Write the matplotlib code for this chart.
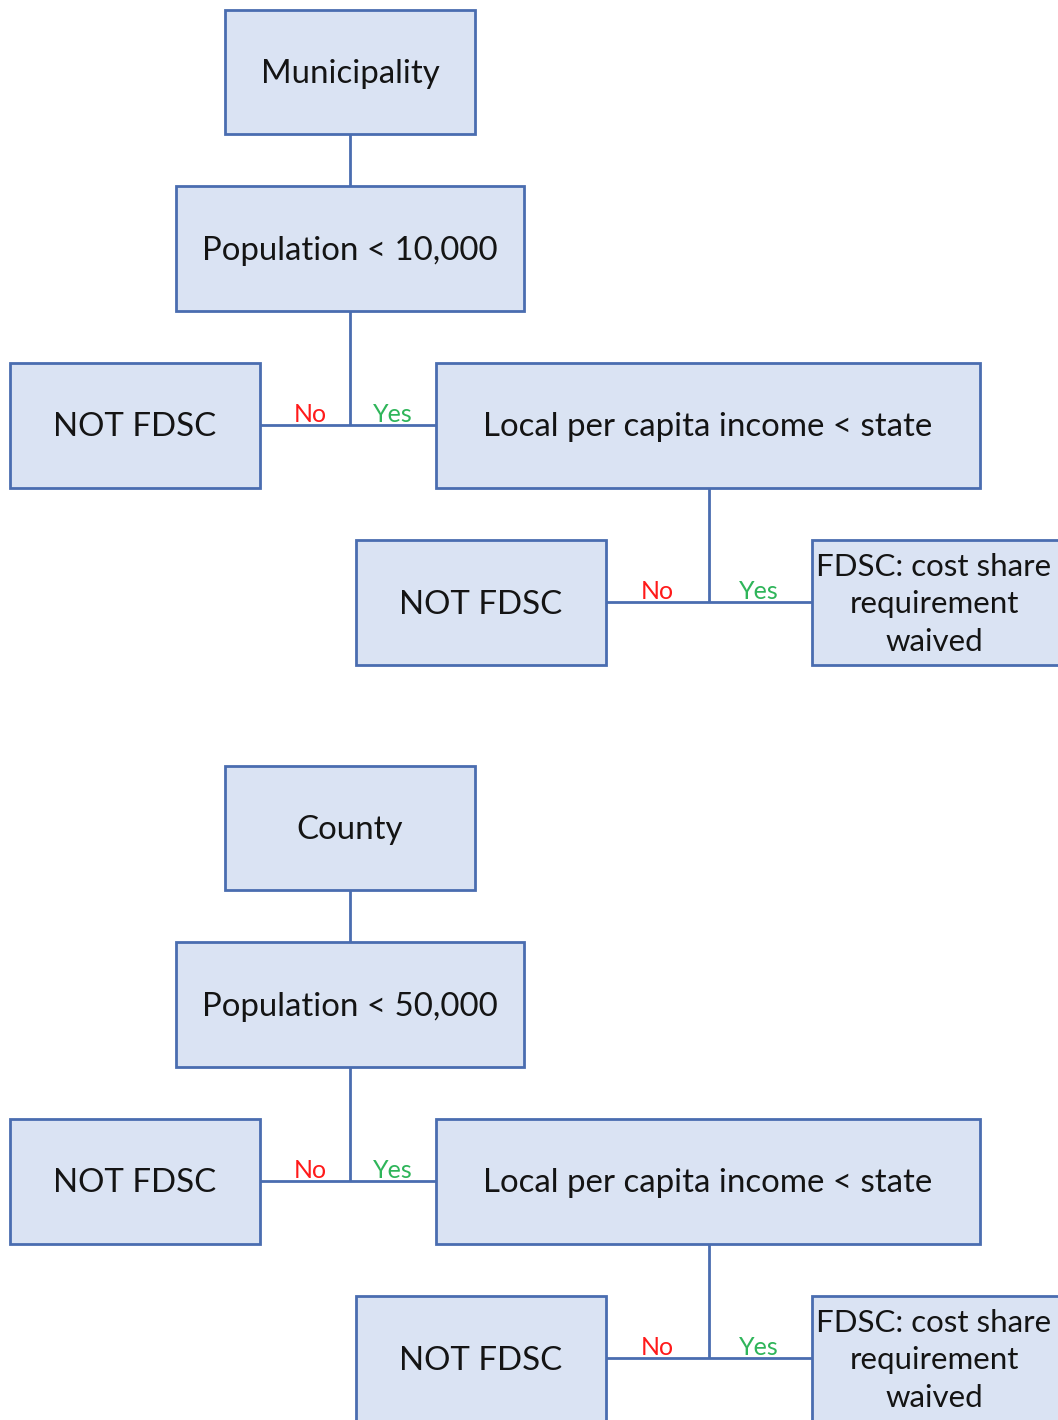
import matplotlib
matplotlib.use("Agg")
import matplotlib.pyplot as plt
from matplotlib.patches import Rectangle

# ---- content ----
entities = ["Municipality", "County"]
thresholds = ["Population < 10,000", "Population < 50,000"]
not_label = "NOT FDSC"
income_label = "Local per capita income < state"
waived_label = "FDSC: cost share\nrequirement\nwaived"
no_label = "No"
yes_label = "Yes"

# ---- style ----
FILL = "#dae3f3"
EDGE = "#4a6db0"
RED = "#ff1a1a"
GREEN = "#2fb55a"
TXT = "#141414"
FONT = ["Lato", "DejaVu Sans"]

W, H = 1058, 1420
fig = plt.figure(figsize=(W / 100, H / 100), dpi=100)
ax = fig.add_axes([0, 0, 1, 1])
ax.set_xlim(0, W)
ax.set_ylim(H, 0)
ax.axis("off")

LW = 2.0


def box(x0, y0, x1, y1, text, fs=23.8, ls=1.2, tx=None):
    ax.add_patch(Rectangle((x0, y0), x1 - x0, y1 - y0, facecolor=FILL,
                           edgecolor=EDGE, linewidth=LW, zorder=2))
    cx = (x0 + x1) / 2 if tx is None else tx
    ax.text(cx, (y0 + y1) / 2 + 2, text, ha="center", va="center",
            fontsize=fs, color=TXT, family=FONT, linespacing=ls, zorder=3)


def line(xs, ys):
    ax.plot(xs, ys, color=EDGE, linewidth=LW, solid_capstyle="butt", zorder=1)


def label(x, y, text, color):
    ax.text(x, y, text, ha="center", va="baseline", fontsize=18,
            color=color, family=FONT, zorder=3)


for i, (ent, thr) in enumerate(zip(entities, thresholds)):
    dy = 756 * i
    # top entity
    box(225, 10 + dy, 475, 134 + dy, ent)
    line([350, 350], [134 + dy, 186 + dy])
    box(176, 186 + dy, 524, 311 + dy, thr)
    line([350, 350], [311 + dy, 425 + dy])
    line([260, 436], [425 + dy, 425 + dy])
    box(10, 363 + dy, 260, 488 + dy, not_label)
    box(436, 363 + dy, 980, 488 + dy, income_label)
    label(310, 422 + dy, no_label, RED)
    label(393, 422 + dy, yes_label, GREEN)
    line([709, 709], [488 + dy, 602 + dy])
    line([606, 812], [602 + dy, 602 + dy])
    box(356, 540 + dy, 606, 665 + dy, not_label)
    box(812, 540 + dy, 1062, 665 + dy, waived_label, fs=22.5, ls=1.4, tx=934)
    label(657, 599 + dy, no_label, RED)
    label(759, 599 + dy, yes_label, GREEN)

fig.savefig("out.png", dpi=100, facecolor="white")
